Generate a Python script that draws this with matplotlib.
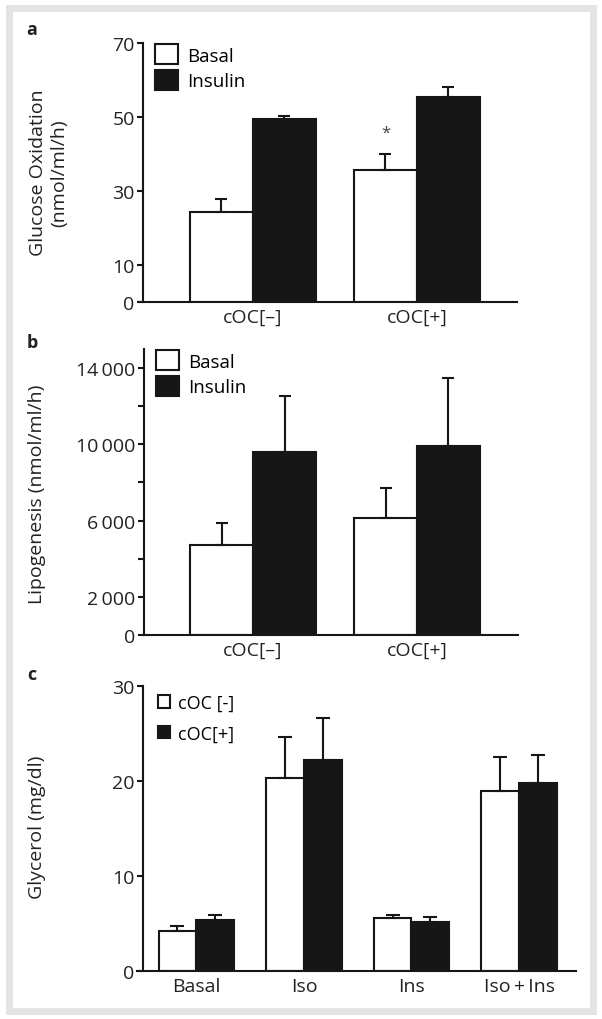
import matplotlib.pyplot as plt
import numpy as np
from matplotlib.patches import Rectangle

plt.rcParams['font.family'] = ['Open Sans', 'DejaVu Sans']

W, H = 602, 1020
INK = "#161616"

# a: glucose oxidation (nmol/ml/h)
groups_ab = ["cOC[\u2013]", "cOC[+]"]
ox_basal = [24.3, 35.7]
ox_basal_err = [3.5, 4.3]
ox_insulin = [49.4, 55.4]
ox_insulin_err = [0.9, 2.7]

# b: lipogenesis (nmol/ml/h)
lipo_basal = [4700, 6150]
lipo_basal_err = [1200, 1560]
lipo_insulin = [9600, 9900]
lipo_insulin_err = [2950, 3600]

# c: glycerol (mg/dl)
glyc_groups = ["Basal", "Iso", "Ins", "Iso\u2009+\u2009Ins"]
glyc_neg = [4.2, 20.3, 5.6, 18.9]
glyc_neg_err = [0.5, 4.3, 0.3, 3.6]
glyc_pos = [5.4, 22.2, 5.2, 19.8]
glyc_pos_err = [0.5, 4.4, 0.5, 2.9]

FS = 14


def px_axes(fig, left, top, right, bottom):
    return fig.add_axes([left / W, 1 - bottom / H, (right - left) / W, (bottom - top) / H])


def style(ax, spine_off):
    for s in ["top", "right"]:
        ax.spines[s].set_visible(False)
    for s in ["left", "bottom"]:
        ax.spines[s].set_linewidth(1.5)
        ax.spines[s].set_color(INK)
    ax.spines["left"].set_position(("axes", spine_off))
    ax.tick_params(axis="y", length=4, width=1.5, color=INK, labelsize=FS, pad=2, labelcolor="#222")
    ax.tick_params(axis="x", length=0, labelsize=FS, pad=4, labelcolor="#222")


def bars(ax, x, vals, errs, w, face, cap):
    return ax.bar(x, vals, w, color=face, edgecolor=INK, linewidth=1.5,
                  yerr=[np.zeros(len(vals)), errs],
                  error_kw=dict(ecolor=INK, elinewidth=1.5, capsize=cap, capthick=1.5))


fig = plt.figure(figsize=(W / 100, H / 100), dpi=100)
fig.patches.append(Rectangle((8.5 / W, 8.5 / H), 584 / W, 1003 / H, transform=fig.transFigure,
                             fill=False, edgecolor="#e4e4e4", linewidth=5, zorder=0))

# ---- panel a
ax = px_axes(fig, 139, 44, 517, 303)
x = np.arange(len(groups_ab))
w = 0.384
b1 = bars(ax, x - w / 2, ox_basal, ox_basal_err, w, "white", 4)
b2 = bars(ax, x + w / 2, ox_insulin, ox_insulin_err, w, INK, 4)
ax.text(x[1] - w / 2, ox_basal[1] + ox_basal_err[1] + 5.9, "*", ha="center", va="center",
        fontsize=12, color="#444")
ax.set_xlim(-0.695, 1.61)
ax.set_ylim(0, 70)
ax.set_yticks([0, 10, 30, 50, 70])
ax.set_xticks(x)
ax.set_xticklabels(groups_ab)
style(ax, 4 / 378)
ax.legend([b1, b2], ["Basal", "Insulin"], loc="upper left", bbox_to_anchor=(0.042, 0.995),
          frameon=False, fontsize=13.5, handlelength=1.22, handleheight=1.25,
          handletextpad=0.5, labelspacing=0.3, borderpad=0, borderaxespad=0)

# ---- panel b
ax = px_axes(fig, 144, 350, 518, 636)
b1 = bars(ax, x - w / 2, lipo_basal, lipo_basal_err, w, "white", 4)
b2 = bars(ax, x + w / 2, lipo_insulin, lipo_insulin_err, w, INK, 4)
ax.set_xlim(-0.665, 1.616)
ax.set_ylim(0, 15000)
yt = np.arange(0, 14001, 2000)
ax.set_yticks(yt)
ax.set_yticklabels(["0" if v == 0 else (f"{v // 1000}\u2009000" if v % 4000 == 2000 else "") for v in yt])
ax.set_xticks(x)
ax.set_xticklabels(groups_ab)
style(ax, 0)
ax.legend([b1, b2], ["Basal", "Insulin"], loc="upper left", bbox_to_anchor=(0.032, 0.995),
          frameon=False, fontsize=13.5, handlelength=1.22, handleheight=1.25,
          handletextpad=0.5, labelspacing=0.3, borderpad=0, borderaxespad=0)

# ---- panel c
ax = px_axes(fig, 137, 687, 576, 972)
xc = np.arange(len(glyc_groups))
wc = 0.353
c1 = bars(ax, xc - wc / 2, glyc_neg, glyc_neg_err, wc, "white", 5)
c2 = bars(ax, xc + wc / 2, glyc_pos, glyc_pos_err, wc, INK, 5)
ax.set_xlim(-0.553, 3.53)
ax.set_ylim(0, 30)
ax.set_yticks([0, 10, 20, 30])
ax.set_xticks(xc)
ax.set_xticklabels(glyc_groups)
style(ax, 6 / 439)
ax.legend([c1, c2], ["cOC [-]", "cOC[+]"], loc="upper left", bbox_to_anchor=(0.048, 0.972),
          frameon=False, fontsize=13, handlelength=0.68, handleheight=0.68,
          handletextpad=0.4, labelspacing=0.7, borderpad=0, borderaxespad=0)

# panel letters and y labels
for lab, yy in [("a", 30), ("b", 343), ("c", 675)]:
    fig.text(32 / W, 1 - yy / H, lab, fontsize=13, fontweight="bold", ha="center", va="center", color="#222")

fig.text(49 / W, 1 - 173 / H, "Glucose Oxidation\n(nmol/ml/h)", rotation=90, ha="center", va="center",
         fontsize=FS, color="#222", linespacing=1.25)
fig.text(37 / W, 1 - 494 / H, "Lipogenesis (nmol/ml/h)", rotation=90, ha="center", va="center",
         fontsize=FS, color="#222")
fig.text(37 / W, 1 - 827 / H, "Glycerol (mg/dl)", rotation=90, ha="center", va="center",
         fontsize=FS, color="#222")

fig.savefig("out.png", dpi=100)
